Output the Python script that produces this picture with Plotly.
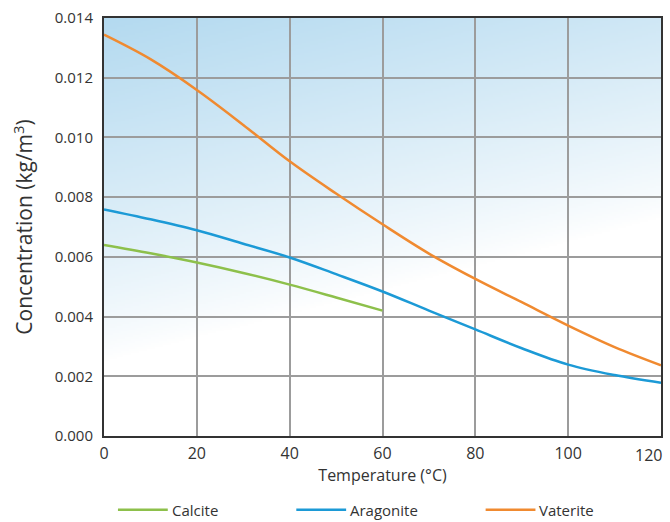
import base64
import struct
import zlib

import numpy as np
import plotly.graph_objects as go

# Solubility data read per 10 °C
temp_calcite = [0, 10, 20, 30, 40, 50, 60]
calcite = [0.00640, 0.00612, 0.00581, 0.00546, 0.00507, 0.00464, 0.00420]

temp_full = [0, 10, 20, 30, 40, 50, 60, 70, 80, 90, 100, 110, 120]
aragonite = [0.00759, 0.00726, 0.00689, 0.00644, 0.00598, 0.00542, 0.00484,
             0.00420, 0.00357, 0.00294, 0.00239, 0.00204, 0.00178]
vaterite = [0.01344, 0.01262, 0.01159, 0.01042, 0.00920, 0.00812, 0.00709,
            0.00611, 0.00526, 0.00448, 0.00370, 0.00298, 0.00237]

series_names = ["Calcite", "Aragonite", "Vaterite"]
series_colors = ["#8dc04b", "#1c9ad6", "#f08a30"]

x_ticks = [0, 20, 40, 60, 80, 100, 120]
y_ticks = [0.000, 0.002, 0.004, 0.006, 0.008, 0.010, 0.012, 0.014]

FONT = "Open Sans"
TEXT = "#333333"

# plot area in pixels (for the hand-made legend row below the axis)
W, H = 670, 522
ML, MR, MT, MB = 104, 7, 16, 86
PW = W - ML - MR
PH = H - MT - MB


def px_x(p):
    return (p - ML) / PW


def px_y(p):
    return (H - MB - p) / PH


def gradient_png(w=280, h=210):
    """Soft blue wash in the top-left corner fading to white."""
    u = np.linspace(0, 1, w)[None, :]
    v = np.linspace(0, 1, h)[:, None]
    b = np.clip(1.0 - (v * 1.22 + u * 0.42), 0, 1) ** 0.85
    blue = np.array([180, 218, 240], dtype=float)
    white = np.array([255, 255, 255], dtype=float)
    img = white[None, None, :] * (1 - b[..., None]) + blue[None, None, :] * b[..., None]
    img = img.astype(np.uint8)
    raw = b"".join(b"\x00" + img[r].tobytes() for r in range(h))

    def chunk(tag, data):
        c = struct.pack(">I", len(data)) + tag + data
        return c + struct.pack(">I", zlib.crc32(tag + data) & 0xFFFFFFFF)

    png = b"\x89PNG\r\n\x1a\n"
    png += chunk(b"IHDR", struct.pack(">IIBBBBB", w, h, 8, 2, 0, 0, 0))
    png += chunk(b"IDAT", zlib.compress(raw, 9))
    png += chunk(b"IEND", b"")
    return "data:image/png;base64," + base64.b64encode(png).decode()


fig = go.Figure()
fig.add_trace(go.Scatter(x=temp_calcite, y=calcite, name=series_names[0], mode="lines",
                         line=dict(color=series_colors[0], width=2.5, shape="spline")))
fig.add_trace(go.Scatter(x=temp_full, y=aragonite, name=series_names[1], mode="lines",
                         line=dict(color=series_colors[1], width=2.5, shape="spline")))
fig.add_trace(go.Scatter(x=temp_full, y=vaterite, name=series_names[2], mode="lines",
                         line=dict(color=series_colors[2], width=2.5, shape="spline")))

fig.add_layout_image(dict(source=gradient_png(), xref="x", yref="y", x=0, y=0.014,
                          sizex=120, sizey=0.014, sizing="stretch", layer="below"))

# legend row: 50 px line swatch followed by the series name
legend_starts = [118, 297, 487]
legend_y = 510
for name, color, x0 in zip(series_names, series_colors, legend_starts):
    fig.add_shape(type="line", xref="paper", yref="paper",
                  x0=px_x(x0), x1=px_x(x0 + 50), y0=px_y(legend_y), y1=px_y(legend_y),
                  line=dict(color=color, width=2.5))
    fig.add_annotation(text=name, xref="paper", yref="paper", x=px_x(x0 + 52),
                       y=px_y(legend_y), xanchor="left", yanchor="middle",
                       showarrow=False, font=dict(size=15, color=TEXT, family=FONT))

# last x tick label sits inside the right edge
fig.add_annotation(text=str(x_ticks[-1]), x=x_ticks[-1], y=0, xref="x", yref="y",
                   xanchor="right", yanchor="top", xshift=3, yshift=-6, showarrow=False,
                   font=dict(size=16, color=TEXT, family=FONT))

fig.update_layout(
    width=W, height=H,
    margin=dict(l=ML, r=MR, t=MT, b=MB),
    paper_bgcolor="white",
    plot_bgcolor="rgba(0,0,0,0)",
    font=dict(family=FONT, color=TEXT, size=15),
    showlegend=False,
)
fig.update_xaxes(
    range=[0, 120], tickvals=x_ticks[:-1],
    ticktext=[str(t) for t in x_ticks[:-1]],
    title=dict(text="Temperature (°C)", font=dict(size=16), standoff=5),
    showgrid=True, gridcolor="#9c9c9c", gridwidth=1.5,
    showline=True, linecolor="#333333", linewidth=2, mirror=True,
    ticks="", zeroline=False, tickfont=dict(size=16), ticklabelstandoff=2,
)
fig.update_yaxes(
    range=[0, 0.014], tickvals=y_ticks, ticktext=[f"{t:.3f}" for t in y_ticks],
    title=dict(text="Concentration (kg/m<sup>3</sup>)", font=dict(size=21), standoff=16),
    showgrid=True, gridcolor="#9c9c9c", gridwidth=1.5,
    showline=True, linecolor="#333333", linewidth=2, mirror=True,
    ticks="", zeroline=False, tickfont=dict(size=15), ticklabelstandoff=6,
)

fig.write_html("out.html")
